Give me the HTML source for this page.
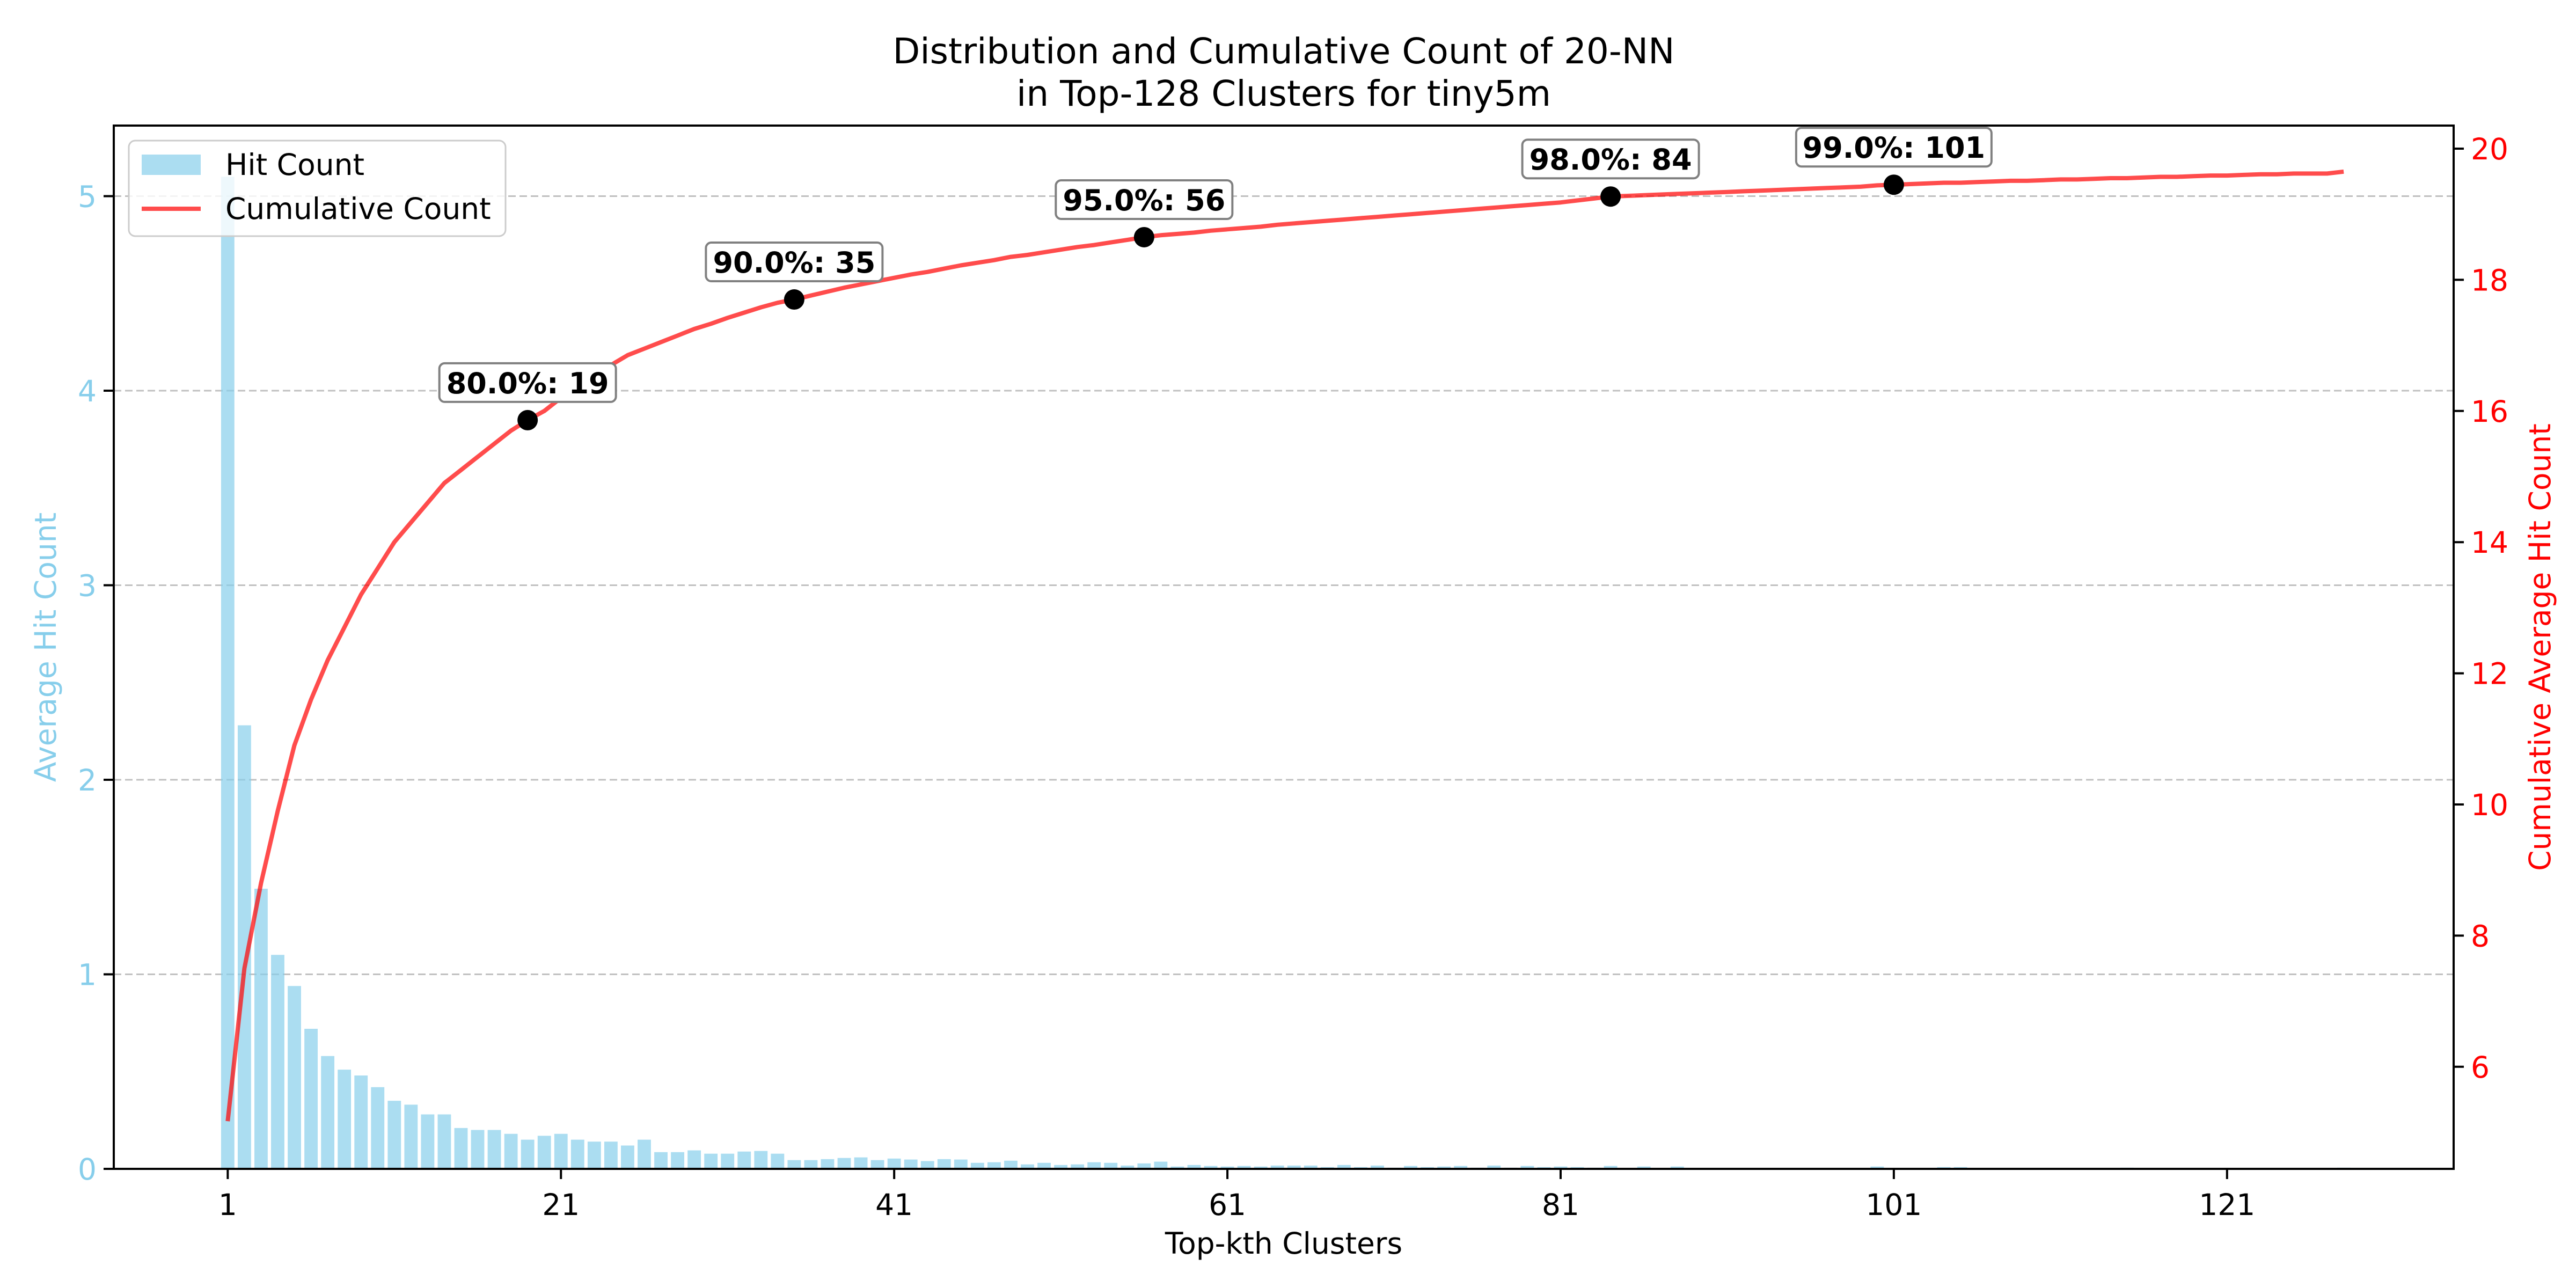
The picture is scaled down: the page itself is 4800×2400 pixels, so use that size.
<!DOCTYPE html>
<html><head><meta charset="utf-8"><style>
html,body{margin:0;padding:0;background:#fff}
svg{display:block;font-family:"DejaVu Sans","Liberation Sans",sans-serif}
</style></head><body>
<svg id="chart" width="4800" height="2400" viewBox="0 0 4800 2400" xmlns="http://www.w3.org/2000/svg">
<text x="2392" y="118" font-size="66" text-anchor="middle">Distribution and Cumulative Count of 20-NN</text>
<text x="2392" y="197" font-size="66" text-anchor="middle">in Top-128 Clusters for tiny5m</text>
<g id="grid"></g>
<g id="bars"></g>
<g id="line"></g>
<g id="ann"></g>
<rect x="212" y="234" width="4360" height="1944" fill="none" stroke="#000" stroke-width="4"/>
<g id="xt"></g>
<g id="yl"></g>
<g id="yr"></g>
<text x="2392" y="2336" font-size="55" text-anchor="middle">Top-kth Clusters</text>
<text x="104" y="1206" font-size="55" fill="#87ceeb" text-anchor="middle" transform="rotate(-90 104 1206)">Average Hit Count</text>
<text x="4752" y="1206" font-size="55" fill="#ff0000" text-anchor="middle" transform="rotate(-90 4752 1206)">Cumulative Average Hit Count</text>
<g>
<rect x="240" y="262" width="702" height="178" rx="12" fill="#fff" fill-opacity="0.8" stroke="#ccc" stroke-width="3"/>
<rect x="264" y="288" width="110" height="38" fill="#87ceeb" fill-opacity="0.7"/>
<text x="420" y="326" font-size="55">Hit Count</text>
<line x1="264" y1="389" x2="374" y2="389" stroke="#ff0000" stroke-opacity="0.7" stroke-width="8"/>
<text x="420" y="408" font-size="55">Cumulative Count</text>
</g>
</svg>
<script>
const hitCounts = [5.1,2.28,1.44,1.10,0.94,0.72,0.58,0.51,0.48,0.42,0.35,0.33,0.28,0.28,0.21,0.20,0.20,0.18,0.15,0.17,0.18,0.15,0.14,0.14,0.12,0.15,
.086,.086,.095,.078,.078,.089,.092,.078,.045,.045,.05,.056,.059,.045,.053,.048,.04,.05,.048,.031,.034,.042,.023,.031,.02,.023,.034,.031,.017,.028,
.037,.012,.02,.015,.012,.015,.012,.017,.017,.017,.009,.02,.009,.017,.006,.015,.009,.012,.015,.006,.017,.006,.015,.009,.012,.009,.006,.015,.004,.012,.004,.012,.004,
.004,.004,.004,.004,.004,.004,.004,.004,.004,.004,.012,.004,.004,.004,.009,.009,.004,.004,.004,.004,.004,.004,.004,.004,.004,.006,.004,.004,.004,.004,.004,.004,.004,.004,.004,.004,.004,.004,.006];
const cumulative = [5.17,7.5,8.8,9.9,10.9,11.6,12.2,12.7,13.2,13.6,14.0,14.3,14.6,14.9,15.1,15.3,15.5,15.7,15.86,16.0,16.2,16.4,16.5,16.7,16.85,16.95,17.05,17.15,17.25,17.33,17.42,17.5,17.58,17.65,17.7,17.76,17.82,17.88,17.93,17.98,18.03,18.08,18.12,18.17,18.22,18.26,18.3,18.35,18.38,18.42,18.46,18.5,18.53,18.57,18.61,18.65,
18.68,18.70,18.72,18.75,18.77,18.79,18.81,18.84,18.86,18.88,18.90,18.92,18.94,18.96,18.98,19.00,19.02,19.04,19.06,19.08,19.10,19.12,19.14,19.16,19.18,19.21,19.24,19.27,
19.28,19.29,19.30,19.31,19.32,19.33,19.34,19.35,19.36,19.37,19.38,19.39,19.40,19.41,19.42,19.44,19.45,
19.46,19.47,19.48,19.48,19.49,19.50,19.51,19.51,19.52,19.53,19.53,19.54,19.55,19.55,19.56,19.57,19.57,19.58,19.59,19.59,19.60,19.61,19.61,19.62,19.62,19.62,19.65];
const markerIdx = [19,35,56,84,101];
const markerPct = ["80.0%","90.0%","95.0%","98.0%","99.0%"];
const xTicks = [1,21,41,61,81,101,121];
const leftTicks = [0,1,2,3,4,5];
const rightTicks = [6,8,10,12,14,16,18,20];

const NS="http://www.w3.org/2000/svg";
const X0=-5.84,X1=134.6,PL=212,PR=4572,PT=234,PB=2178;
const sx=v=>PL+(v-X0)/(X1-X0)*(PR-PL);
const syL=v=>PB-v*362.5;
const syR=v=>277+(20-v)*122.2;
function mk(t,a,p){const e=document.createElementNS(NS,t);for(const k in a)e.setAttribute(k,a[k]);p.appendChild(e);return e;}
const G=id=>document.getElementById(id);

leftTicks.forEach(t=>{
  if(t>0){const g=mk('line',{x1:PL,x2:PR,y1:syL(t),y2:syL(t),stroke:'#b0b0b0','stroke-width':3,'stroke-dasharray':'14 7','stroke-opacity':0.8},G('grid'));
  
  }
  const l=mk('line',{x1:PL-19,x2:PL,y1:syL(t),y2:syL(t),stroke:'#000','stroke-width':4},G('yl'));
  
  
  const tx=mk('text',{x:PL-32,y:syL(t)+20,'font-size':55,fill:'#87ceeb','text-anchor':'end'},G('yl'));
  tx.textContent=t;
  
  
});
rightTicks.forEach(t=>{
  const l=mk('line',{x1:PR,x2:PR+19,y1:syR(t),y2:syR(t),stroke:'#000','stroke-width':4},G('yr'));
  
  
  const tx=mk('text',{x:PR+32,y:syR(t)+20,'font-size':55,fill:'#ff0000'},G('yr'));
  tx.textContent=t;
  
  
});
xTicks.forEach(t=>{
  const l=mk('line',{x1:sx(t),x2:sx(t),y1:PB,y2:PB+19,stroke:'#000','stroke-width':4},G('xt'));
  
  
  const tx=mk('text',{x:sx(t),y:PB+86,'font-size':55,'text-anchor':'middle'},G('xt'));
  tx.textContent=t;
  
  
});
hitCounts.forEach((v,i)=>{
  const k=i+1,w=sx(0.4)-sx(0);
  const r=mk('rect',{x:sx(k)-w,width:2*w,y:syL(v),height:syL(0)-syL(v),fill:'#87ceeb','fill-opacity':0.7},G('bars'));
  
  
});
const pts=cumulative.map((v,i)=>sx(i+1).toFixed(1)+','+syR(v).toFixed(1)).join(' ');
const pl=mk('polyline',{points:pts,fill:'none',stroke:'#ff0000','stroke-opacity':0.7,'stroke-width':8,'stroke-linejoin':'round'},G('line'));


markerIdx.forEach((k,j)=>{
  const cx=sx(k),cy=syR(cumulative[k-1]);
  const c=mk('circle',{cx:cx,cy:cy,r:19,fill:'#000'},G('ann'));
  
  
  const label=markerPct[j]+': '+k;
  const wbox=label.length*35+14;
  const b=mk('rect',{x:cx-wbox/2,y:cy-106,width:wbox,height:72,rx:10,fill:'#fff',stroke:'#808080','stroke-width':4},G('ann'));
  
  
  const t=mk('text',{x:cx,y:cy-50,'font-size':54,'font-weight':'bold','text-anchor':'middle'},G('ann'));
  t.textContent=label;
  
  
});
</script>
</body></html>
